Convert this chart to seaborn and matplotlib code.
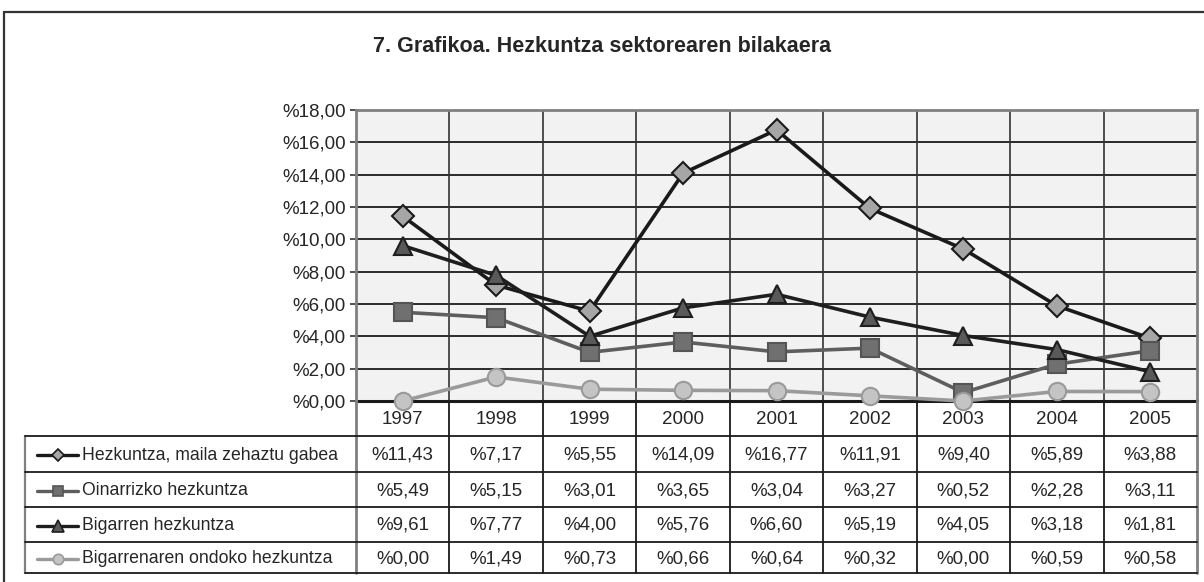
import numpy as np
import pandas as pd
import seaborn as sns
import matplotlib.pyplot as plt

years = ["1997", "1998", "1999", "2000", "2001", "2002", "2003", "2004", "2005"]
series_names = [
    "Hezkuntza, maila zehaztu gabea",
    "Oinarrizko hezkuntza",
    "Bigarren hezkuntza",
    "Bigarrenaren ondoko hezkuntza",
]
hezkuntza_zehaztu_gabea = [11.43, 7.17, 5.55, 14.09, 16.77, 11.91, 9.40, 5.89, 3.88]
oinarrizko = [5.49, 5.15, 3.01, 3.65, 3.04, 3.27, 0.52, 2.28, 3.11]
bigarren = [9.61, 7.77, 4.00, 5.76, 6.60, 5.19, 4.05, 3.18, 1.81]
bigarrenaren_ondoko = [0.00, 1.49, 0.73, 0.66, 0.64, 0.32, 0.00, 0.59, 0.58]
y_ticks = [0, 2, 4, 6, 8, 10, 12, 14, 16, 18]
title = "7. Grafikoa. Hezkuntza sektorearen bilakaera"

all_values = [hezkuntza_zehaztu_gabea, oinarrizko, bigarren, bigarrenaren_ondoko]

# line colour, marker, marker size, marker face, marker edge
styles = [
    ("#1a1a1a", "D", 11, "#a6a6a6", "#1a1a1a"),
    ("#5e5e5e", "s", 12.5, "#707070", "#555555"),
    ("#1e1e1e", "^", 13.5, "#595959", "#1e1e1e"),
    ("#9a9a9a", "o", 12.5, "#c4c4c4", "#9a9a9a"),
]


def pct(v):
    return "%" + f"{v:.2f}".replace(".", ",")


sns.set_style("white")
plt.rcParams["font.family"] = ["Liberation Sans", "DejaVu Sans"]

W, H = 1204, 582
fig = plt.figure(figsize=(W / 100, H / 100), dpi=100)

# layout in pixels
left, right, top, bottom = 356, 1197, 110, 401
colw = (right - left) / len(years)
row_edges = [401, 436, 472, 507, 542, 573]
legend_left = 25
num_fs = 13.5
name_fs = 12.7

ax = fig.add_axes([left / W, 1 - bottom / H, (right - left) / W, (bottom - top) / H])
ax.set_facecolor("#f2f2f2")

df = pd.DataFrame({"pos": np.arange(len(years))})
for name, vals, (lc, mk, ms, mf, me) in zip(series_names, all_values, styles):
    df[name] = vals
    sns.lineplot(data=df, x="pos", y=name, ax=ax, color=lc, lw=2.6,
                 marker=mk, markersize=ms, markerfacecolor=mf,
                 markeredgecolor=me, markeredgewidth=1.5, clip_on=False, zorder=3)

ax.set_xlim(-0.5, len(years) - 0.5)
ax.set_ylim(0, 18)
ax.set_yticks(y_ticks)
ax.set_yticklabels([pct(t) for t in y_ticks], fontsize=num_fs)
ax.set_xticks(np.arange(len(years)) + 0.5, minor=False)
ax.set_xticklabels([])
ax.tick_params(axis="x", length=0)
ax.tick_params(axis="y", length=4.5, width=1.2, color="#333333", pad=3, left=True)
ax.set_xlabel("")
ax.set_ylabel("")
ax.grid(False)
for t in y_ticks[1:-1]:
    ax.axhline(t, color="#1a1a1a", lw=1.3, zorder=1)
for k in range(1, len(years)):
    ax.axvline(k - 0.5, color="#333333", lw=1.2, zorder=1)
for s in ["top", "left", "right"]:
    ax.spines[s].set_color("#808080")
    ax.spines[s].set_linewidth(2)
ax.spines["bottom"].set_color("#1a1a1a")
ax.spines["bottom"].set_linewidth(2.2)
ax.spines["bottom"].set_zorder(2)

# overlay in pixel coordinates for frame, title and data table
ov = fig.add_axes([0, 0, 1, 1], zorder=-1)
ov.set_xlim(0, W)
ov.set_ylim(H, 0)
ov.axis("off")
ov.patch.set_alpha(0)

ov.plot([4, 4], [12, H + 5], color="#333333", lw=1.6, clip_on=False)
ov.plot([4, W + 5], [12, 12], color="#333333", lw=1.6, clip_on=False)

ov.text(W / 2, 46, title, ha="center", va="center", fontsize=15.5, fontweight="bold")

tab = fig.add_axes([0, 0, 1, 1], zorder=2)
tab.set_xlim(0, W)
tab.set_ylim(H, 0)
tab.axis("off")
tab.patch.set_alpha(0)

line_kw = dict(color="#1a1a1a", lw=1.3)
# vertical column lines in the table
for k in range(1, len(years)):
    x = left + k * colw
    tab.plot([x, x], [row_edges[0], row_edges[-1]], **line_kw)
tab.plot([left, left], [row_edges[0], row_edges[-1]], color="#808080", lw=2)
tab.plot([right, right], [row_edges[0], row_edges[-1]], color="#808080", lw=2)
tab.plot([legend_left, legend_left], [row_edges[1], row_edges[-1]], color="#808080", lw=1.6)
for y in row_edges[1:]:
    tab.plot([legend_left, right], [y, y], **line_kw)

for i, yr in enumerate(years):
    tab.text(left + (i + 0.5) * colw, (row_edges[0] + row_edges[1]) / 2 + 1, yr,
             ha="center", va="center", fontsize=num_fs)

for r, (name, vals, (lc, mk, ms, mf, me)) in enumerate(zip(series_names, all_values, styles)):
    yc = (row_edges[r + 1] + row_edges[r + 2]) / 2 + 1
    tab.plot([37, 78], [yc, yc], color=lc, lw=2.4)
    tab.plot([58], [yc], marker=mk, markersize=ms * 0.6, markerfacecolor=mf,
             markeredgecolor=me, markeredgewidth=1.2)
    tab.text(82, yc, name, ha="left", va="center", fontsize=name_fs)
    for i, v in enumerate(vals):
        tab.text(left + (i + 0.5) * colw, yc, pct(v), ha="center", va="center", fontsize=num_fs)

fig.savefig("out.png", dpi=100, facecolor="white")
